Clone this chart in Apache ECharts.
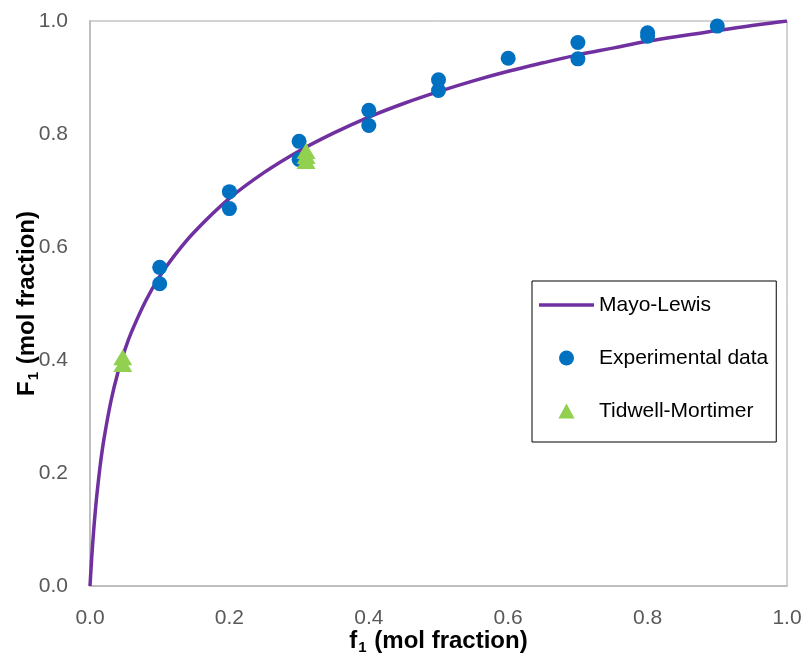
<!DOCTYPE html>
<html>
<head>
<meta charset="utf-8">
<script src="https://cdn.jsdelivr.net/npm/echarts@6/dist/echarts.min.js"></script>
<style>
  html, body { margin: 0; padding: 0; background: #ffffff; }
  #chart { width: 804px; height: 655px; }
</style>
</head>
<body>
<div id="chart"></div>
<script>
// Mayo-Lewis copolymer composition curve (F1 vs f1)
const curveF1feed = [0, 0.0025, 0.005, 0.0075, 0.01, 0.015, 0.02, 0.03, 0.04, 0.05, 0.06, 0.08, 0.10, 0.12, 0.15, 0.20, 0.25, 0.30, 0.35, 0.40, 0.45, 0.50, 0.55, 0.60, 0.65, 0.70, 0.75, 0.80, 0.85, 0.90, 0.95, 1.00];
const curveF1copo = [0, 0.051, 0.094, 0.131, 0.163, 0.217, 0.260, 0.327, 0.378, 0.418, 0.451, 0.505, 0.548, 0.583, 0.627, 0.686, 0.732, 0.770, 0.802, 0.830, 0.854, 0.875, 0.894, 0.911, 0.926, 0.940, 0.952, 0.964, 0.974, 0.983, 0.992, 1.000];

// Experimental copolymer compositions
const expFeed = [0.10, 0.10, 0.20, 0.20, 0.30, 0.30, 0.40, 0.40, 0.50, 0.50, 0.60, 0.70, 0.70, 0.80, 0.80, 0.90];
const expCopo = [0.564, 0.535, 0.698, 0.668, 0.787, 0.755, 0.842, 0.815, 0.896, 0.877, 0.934, 0.962, 0.933, 0.979, 0.973, 0.991];

// Tidwell-Mortimer points
const tmFeed = [0.047, 0.047, 0.31, 0.31, 0.31];
const tmCopo = [0.405, 0.393, 0.770, 0.761, 0.752];

const xTicks = [0.0, 0.2, 0.4, 0.6, 0.8, 1.0];

const zip = (a, b) => a.map((v, i) => [v, b[i]]);

const chart = echarts.init(document.getElementById('chart'), null, { renderer: 'canvas' });

const labelFont = 'Liberation Sans, Arial, sans-serif';

const titleRich = {
  b: { fontFamily: labelFont, fontSize: 24, fontWeight: 'bold', color: '#000000', lineHeight: 26 },
  s: { fontFamily: labelFont, fontSize: 15, fontWeight: 'bold', color: '#000000', lineHeight: 15, padding: [13, 1, 0, 1] }
};

chart.setOption({
  animation: false,
  backgroundColor: '#ffffff',
  grid: {
    left: 90, right: 17, top: 21, bottom: 69,
    show: true, borderColor: '#A6A6A6', borderWidth: 1,
    outerBoundsMode: 'none'
  },
  xAxis: {
    type: 'value', min: 0, max: 1, interval: 0.2,
    name: '{b|f}{s|1}{b| (mol fraction)}',
    nameLocation: 'middle', nameGap: 42, nameMoveOverlap: false,
    nameTextStyle: { rich: titleRich },
    axisLine: { show: true, lineStyle: { color: '#BFBFBF', width: 2 } },
    axisTick: { show: false },
    splitLine: { show: false },
    axisLabel: {
      margin: 22, color: '#595959', fontSize: 21, fontFamily: labelFont,
      formatter: v => (xTicks.some(t => Math.abs(t - v) < 1e-9) ? v.toFixed(1) : '')
    }
  },
  yAxis: {
    type: 'value', min: 0, max: 1, interval: 0.2,
    name: '{b|F}{s|1}{b| (mol fraction)}',
    nameLocation: 'middle', nameGap: 50, nameMoveOverlap: false,
    nameTextStyle: { rich: titleRich },
    axisLine: { show: true, lineStyle: { color: '#BFBFBF', width: 2 } },
    axisTick: { show: false },
    splitLine: { show: false },
    axisLabel: {
      margin: 22, color: '#595959', fontSize: 21, fontFamily: labelFont,
      formatter: v => v.toFixed(1)
    }
  },
  legend: {
    orient: 'vertical',
    left: 532, top: 281,
    padding: [13, 8, 20, 7],
    itemWidth: 55, itemHeight: 15, itemGap: 31,
    borderColor: '#000000', borderWidth: 1,
    backgroundColor: '#ffffff',
    textStyle: { fontFamily: labelFont, fontSize: 21, color: '#000000', lineHeight: 22 },
    data: [
      { name: 'Mayo-Lewis', icon: 'path://M0,0 L55,0 L55,3.5 L0,3.5 Z' },
      { name: 'Experimental data', icon: 'circle' },
      { name: 'Tidwell-Mortimer', icon: 'path://M6.5,0 L13,12 L0,12 Z' }
    ]
  },
  series: [
    {
      name: 'Mayo-Lewis', type: 'line',
      data: zip(curveF1feed, curveF1copo),
      symbol: 'none', smooth: 0.4,
      lineStyle: { color: '#7030A0', width: 3.5 },
      itemStyle: { color: '#7030A0' },
      z: 2
    },
    {
      name: 'Experimental data', type: 'scatter',
      data: zip(expFeed, expCopo),
      symbol: 'circle', symbolSize: 15,
      itemStyle: { color: '#0070C0', opacity: 1 },
      z: 3
    },
    {
      name: 'Tidwell-Mortimer', type: 'scatter',
      data: zip(tmFeed, tmCopo),
      symbol: 'triangle', symbolSize: [19, 16],
      itemStyle: { color: '#92D050', opacity: 1 },
      z: 4
    }
  ]
});
</script>
</body>
</html>
